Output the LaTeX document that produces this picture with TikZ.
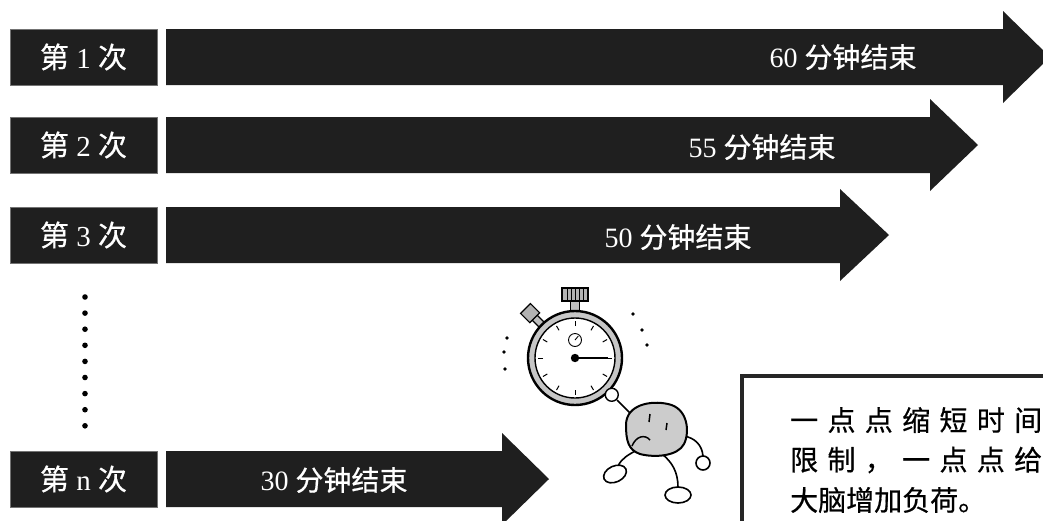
\documentclass[tikz,border=0pt]{standalone}
\usepackage{fontspec}
\setmainfont{Liberation Serif}
\newfontfamily\cjk{Noto Sans CJK SC}[FakeBold=0.6]
\usetikzlibrary{calc}
% one black time bar: #1 centre y, #2 x of the head's base, #3 x of the tip
\newcommand\timebar[3]{%
  \fill[barfill] (166,#1-28) -- (#2,#1-28) -- (#2,#1-46) -- (#3,#1)
    -- (#2,#1+46) -- (#2,#1+28) -- (166,#1+28) -- cycle;}
\begin{document}
\begin{tikzpicture}[x=1pt,y=-1pt,
  barfill/.style={fill=black!88},
  tag/.style={fill=black!88, draw=black!55, line width=0.8pt,
    minimum width=147pt, minimum height=56pt, inner sep=0pt, text=white,
    font=\fontsize{29}{29}\selectfont},
  bartext/.style={text=white, inner sep=0pt, font=\fontsize{28}{28}\selectfont},
  note/.style={inner sep=0pt, anchor=west, font=\fontsize{28}{28}\cjk},
  ink/.style={draw=black, line width=1.6pt},
]
\useasboundingbox (0,0) rectangle (1043,520);

% bars
\timebar{57}{1003}{1050}
\timebar{145}{930}{978}
\timebar{235}{840}{889}
\timebar{479}{502}{549}

% round tags
\node[tag] (t1) at (83.5,57)  {{\cjk 第} 1 {\cjk 次}};
\node[tag] (t2) at (83.5,145) {{\cjk 第} 2 {\cjk 次}};
\node[tag] (t3) at (83.5,235) {{\cjk 第} 3 {\cjk 次}};
\node[tag] (tn) at (83.5,479) {{\cjk 第} n {\cjk 次}};

% time limits
\node[bartext] (l1) at (843,57)  {60 {\cjk 分钟结束}};
\node[bartext] (l2) at (762,147) {55 {\cjk 分钟结束}};
\node[bartext] (l3) at (678,237) {50 {\cjk 分钟结束}};
\node[bartext] (ln) at (334,480) {30 {\cjk 分钟结束}};

% vertical ellipsis
\foreach \k in {0,...,8}
  \fill (85,297+16.1*\k) circle (2.8);

% stopwatch
\begin{scope}[shift={(575,358)}]
  % side button
  \begin{scope}[rotate=135]
    \filldraw[ink, fill=gray!50, line width=1.2pt] (46,-3.5) rectangle (58,3.5);
    \filldraw[ink, fill=gray!60, line width=1.2pt] (57,-7) rectangle (70,7);
  \end{scope}
  % crown
  \filldraw[ink, fill=gray!50, line width=1.2pt] (-4.5,-57) rectangle (4.5,-46);
  \filldraw[ink, fill=gray!60, line width=1.2pt] (-13,-70) rectangle (13,-57);
  \foreach \u in {-8,-4,0,4,8}
    \draw[line width=1pt] (\u,-69) -- (\u,-58);
  % case and face
  \filldraw[ink, fill=gray!45, line width=2.4pt] (0,0) circle (47);
  \filldraw[ink, fill=white, line width=1.4pt] (0,0) circle (40);
  \foreach \a in {0,30,...,330}
    \draw[line width=1pt] (\a:32) -- (\a:37);
  % small dial
  \draw[line width=0.9pt] (0,-18) circle (6.5);
  \draw[line width=0.9pt] (0,-18) -- ++(-50:5);
  % hand
  \draw[line width=2.6pt] (0,0) -- (33,0);
  \fill (0,0) circle (4.2);
  % bow
  \filldraw[ink, fill=white, line width=1.4pt] (45:52) circle (6.5);
\end{scope}

% motion marks
\foreach \p in {(507,338),(504,352),(505,369),(633,314),(642,330),(647,345)}
  \fill \p circle (1.8);

% little figure
\draw[ink] (617,400) -- (630,413);
\draw[ink] (637,450) .. controls (628,455) and (622,458) .. (618,466);
\draw[ink] (662,454) .. controls (672,462) and (678,472) .. (678,487);
\draw[ink] (684,436) .. controls (695,438) and (702,445) .. (703,456);
\filldraw[ink, fill=white, rotate around={25:(615,474)}] (615,474) ellipse (12 and 8);
\filldraw[ink, fill=white] (678,495) ellipse (13 and 8);
\filldraw[ink, fill=white] (703,463) circle (7);
\filldraw[ink, fill=gray!40, line width=2pt]
  (626,425) .. controls (626,405) and (650,400) .. (668,404)
  .. controls (688,408) and (690,432) .. (684,444)
  .. controls (678,456) and (655,458) .. (640,454)
  .. controls (628,450) and (626,440) .. (626,425) -- cycle;
\draw[line width=1.5pt] (650,414) -- (649,422);
\draw[line width=1.5pt] (667,423) -- (666,430);
\draw[line width=1.5pt] (632,446) .. controls (636,436) and (645,434) .. (650,440);

% note box
\filldraw[draw=black!85, fill=white, line width=3.5pt] (742,376) rectangle (1060,530);
\node[note] (n1) at (790,420) {\makebox[252pt][s]{一\hfill 点\hfill 点\hfill 缩\hfill 短\hfill 时\hfill 间}};
\node[note] (n2) at (790,460) {\makebox[252pt][s]{限\hfill 制\hfill ，\hfill 一\hfill 点\hfill 点\hfill 给}};
\node[note] (n3) at (790,500) {大脑增加负荷。};
\end{tikzpicture}
\end{document}
